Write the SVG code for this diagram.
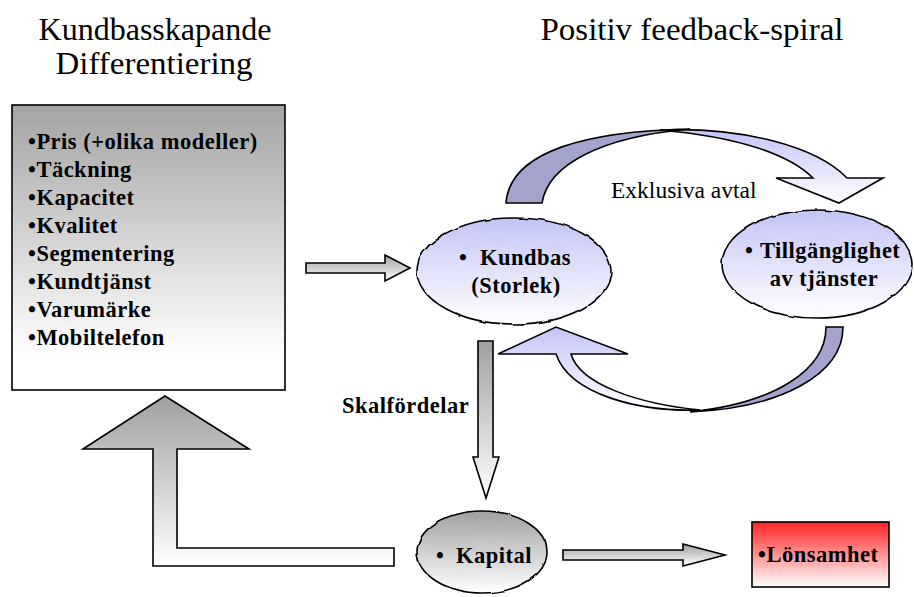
<svg xmlns="http://www.w3.org/2000/svg" width="914" height="597" viewBox="0 0 914 597">
  <defs>
    <linearGradient id="boxFill" x1="0" y1="0" x2="0" y2="1">
      <stop offset="0" stop-color="#a3a3a3"/>
      <stop offset="0.88" stop-color="#ffffff"/>
    </linearGradient>
    <linearGradient id="grayFill" x1="0" y1="0" x2="0" y2="1">
      <stop offset="0" stop-color="#a0a0a0"/>
      <stop offset="1" stop-color="#ffffff"/>
    </linearGradient>
    <linearGradient id="lavFill" x1="0" y1="0" x2="0" y2="1">
      <stop offset="0" stop-color="#c4c4f6"/>
      <stop offset="1" stop-color="#ffffff"/>
    </linearGradient>
    <linearGradient id="redFill" x1="0" y1="0" x2="0" y2="1">
      <stop offset="0" stop-color="#ff2424"/>
      <stop offset="1" stop-color="#ffffff"/>
    </linearGradient>
    <filter id="wobble" x="-5%" y="-5%" width="110%" height="110%">
      <feTurbulence type="fractalNoise" baseFrequency="0.06" numOctaves="1" seed="3" result="n"/>
      <feDisplacementMap in="SourceGraphic" in2="n" scale="3.5" xChannelSelector="R" yChannelSelector="G"/>
    </filter>
    <style>
      .title { font-family: "Liberation Serif", "Times New Roman", serif; font-size: 31px; fill: #000; }
      .bold { font-family: "Liberation Serif", "Times New Roman", serif; font-size: 22.5px; font-weight: bold; letter-spacing: 0.5px; fill: #000; }
      .reg { font-family: "Liberation Serif", "Times New Roman", serif; font-size: 23.5px; fill: #000; }
      .edge { stroke: #000; stroke-width: 1.6; stroke-linejoin: miter; }
      .dark { fill: #a3a3cc; }
    </style>
  </defs>

  <rect width="914" height="597" fill="#ffffff"/>

  <!-- headings -->
  <text class="title" x="155" y="40" text-anchor="middle" textLength="233" lengthAdjust="spacingAndGlyphs">Kundbasskapande</text>
  <text class="title" x="154" y="74" text-anchor="middle" textLength="197" lengthAdjust="spacingAndGlyphs">Differentiering</text>
  <text class="title" x="692" y="40" text-anchor="middle" textLength="303" lengthAdjust="spacingAndGlyphs">Positiv feedback-spiral</text>

  <!-- differentiation factors box -->
  <g id="differentiering">
    <rect class="edge" x="12" y="105" width="273" height="285" fill="url(#boxFill)"/>
    <text class="bold" x="28" y="149">•Pris (+olika modeller)</text>
    <text class="bold" x="28" y="177">•Täckning</text>
    <text class="bold" x="28" y="205">•Kapacitet</text>
    <text class="bold" x="28" y="233">•Kvalitet</text>
    <text class="bold" x="28" y="261">•Segmentering</text>
    <text class="bold" x="28" y="289">•Kundtjänst</text>
    <text class="bold" x="28" y="317">•Varumärke</text>
    <text class="bold" x="28" y="345">•Mobiltelefon</text>
  </g>

  <!-- customer base -->
  <g id="kundbas">
    <ellipse class="edge" cx="514" cy="271" rx="97" ry="53" fill="url(#lavFill)" filter="url(#wobble)"/>
    <text class="bold" x="459" y="265">•</text>
    <text class="bold" x="480" y="265">Kundbas</text>
    <text class="bold" x="516" y="293" text-anchor="middle">(Storlek)</text>
  </g>

  <!-- service availability -->
  <g id="tillganglighet">
    <ellipse class="edge" cx="817" cy="264" rx="95" ry="54" fill="url(#lavFill)" filter="url(#wobble)"/>
    <text class="bold" x="745" y="258">•</text>
    <text class="bold" x="760" y="258">Tillgänglighet</text>
    <text class="bold" x="824" y="286" text-anchor="middle">av tjänster</text>
  </g>

  <!-- capital -->
  <g id="kapital">
    <ellipse class="edge" cx="482" cy="552" rx="65" ry="41" fill="url(#grayFill)" filter="url(#wobble)"/>
    <text class="bold" x="436" y="563">•</text>
    <text class="bold" x="456" y="563">Kapital</text>
  </g>

  <!-- profitability -->
  <g id="lonsamhet">
    <rect class="edge" x="752" y="522" width="137" height="65" fill="url(#redFill)"/>
    <text class="bold" x="758" y="562">•Lönsamhet</text>
  </g>

  <!-- connectors -->
  <g id="connectors">
    <!-- box to customer base -->
    <path class="edge" fill="url(#grayFill)" d="M306,263 L385,263 L385,255 L410,268 L385,281 L385,273 L306,273 Z"/>
    <!-- capital back to the differentiation box -->
    <path class="edge" fill="url(#grayFill)" d="M394,548 L177,548 L177,449 L249,449 L165,396 L83,449 L153,449 L153,566 L394,566 Z"/>
    <!-- scale advantages: customer base to capital -->
    <path class="edge" fill="url(#grayFill)" d="M478,341 L493,341 L493,457 L499,457 L486,498 L473,457 L478,457 Z"/>
    <!-- capital to profitability -->
    <path class="edge" fill="url(#grayFill)" d="M563,550 L683,550 L683,544 L725,555 L683,566 L683,560 L563,560 Z"/>

    <!-- upper spiral arrow -->
    <path class="edge" fill="url(#lavFill)" d="M660,130 C740,127 815,145 847,178 L883,178 L839,203 L776,178 L813,178 C790,155 740,137 660,130 Z"/>
    <path class="edge dark" d="M506,203 C510,150 590,131 690,129 C600,137 548,165 542,203 Z"/>

    <!-- lower spiral arrow -->
    <path class="edge" fill="url(#lavFill)" d="M700,410 C640,412 570,395 556,354 L498,354 L556,327 L628,354 L571,354 C580,385 640,404 700,410 Z"/>
    <path class="edge dark" d="M826,327 L843,327 C843,375 780,408 690,412 C775,403 826,370 826,327 Z"/>

    <text class="reg" x="611" y="198">Exklusiva avtal</text>
    <text class="bold" x="342" y="413">Skalfördelar</text>
  </g>
</svg>
